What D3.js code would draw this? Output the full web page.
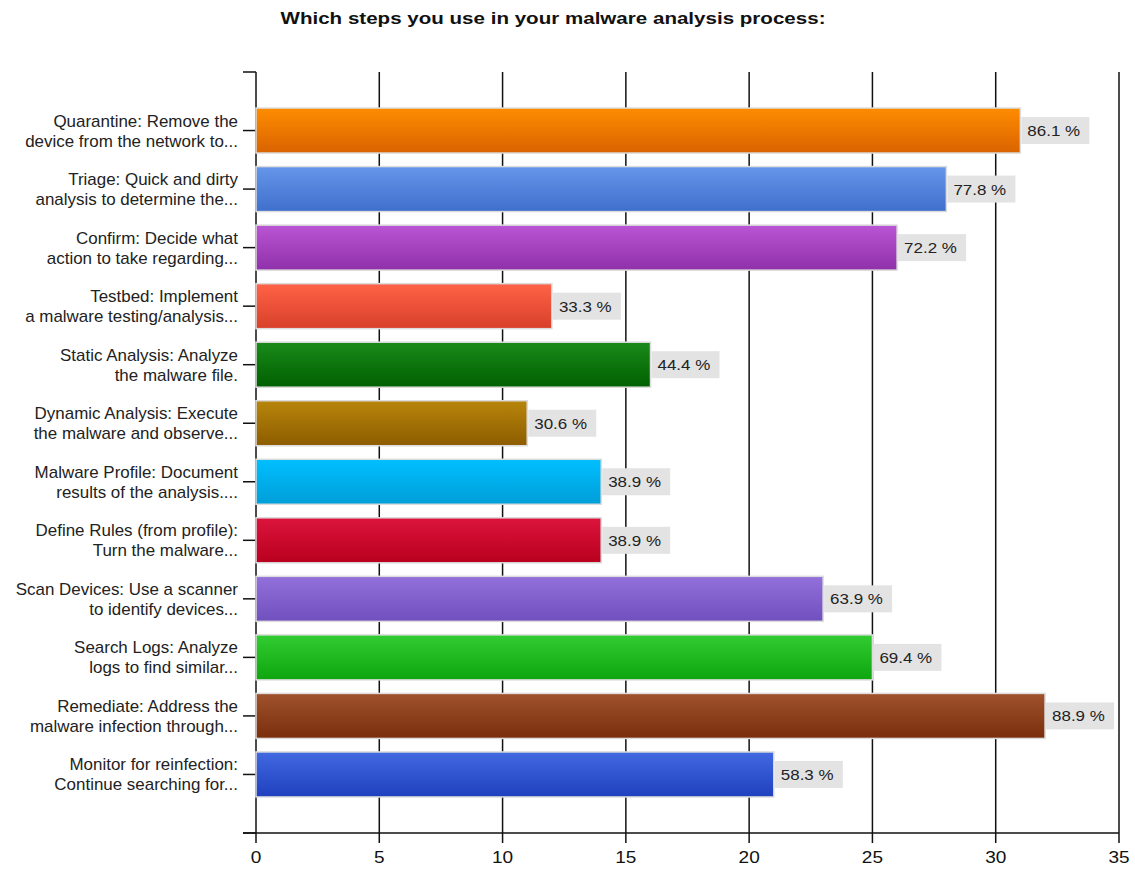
<!DOCTYPE html>
<html>
<head>
<meta charset="utf-8">
<script src="https://cdn.jsdelivr.net/npm/d3@7"></script>
<style>
  body { margin: 0; background: #fff; }
  text { font-family: "Liberation Sans", Arial, sans-serif; }
</style>
</head>
<body>
<div id="chart"></div>
<script>
var categories = [
    ["Quarantine: Remove the", "device from the network to..."],
    ["Triage: Quick and dirty", "analysis to determine the..."],
    ["Confirm: Decide what", "action to take regarding..."],
    ["Testbed: Implement", "a malware testing/analysis..."],
    ["Static Analysis: Analyze", "the malware file."],
    ["Dynamic Analysis: Execute", "the malware and observe..."],
    ["Malware Profile: Document", "results of the analysis...."],
    ["Define Rules (from profile):", "Turn the malware..."],
    ["Scan Devices: Use a scanner", "to identify devices..."],
    ["Search Logs: Analyze", "logs to find similar..."],
    ["Remediate: Address the", "malware infection through..."],
    ["Monitor for reinfection:", "Continue searching for..."]
];
var counts = [31, 28, 26, 12, 16, 11, 14, 14, 23, 25, 32, 21];
var percents = ["86.1 %", "77.8 %", "72.2 %", "33.3 %", "44.4 %", "30.6 %",
                "38.9 %", "38.9 %", "63.9 %", "69.4 %", "88.9 %", "58.3 %"];
var colorsTop = ["#ff8c00", "#6596ea", "#ba55d3", "#ff6347", "#1a8a1a", "#b8860b",
                 "#00bfff", "#dc143c", "#9370db", "#32cd32", "#a0522d", "#4169e1"];
var colorsBottom = ["#d96300", "#3f6fcc", "#9030aa", "#d8402a", "#006000", "#8c5c00",
                    "#009ed8", "#b8001e", "#7050be", "#0ea50e", "#7a2e0c", "#2040bf"];
var xTicks = [0, 5, 10, 15, 20, 25, 30, 35];

function init() {
    var w = 1135;
    var h = 869;
    var left = 256, right = 1119, top = 72, bottom = 833;
    var barH = 45;

    var x = d3.scaleLinear().domain([0, 35]).range([left, right]);
    // categories sit at 1..12 on a 0..13 axis
    var y = d3.scaleLinear().domain([0, categories.length + 1]).range([top, bottom]);

    var svg = d3.select("#chart")
                .append("svg")
                .attr("width", w)
                .attr("height", h);

    var defs = svg.append("defs");
    colorsTop.forEach(function(c, i) {
        var g = defs.append("linearGradient")
                    .attr("id", "grad" + i)
                    .attr("x1", 0).attr("y1", 0).attr("x2", 0).attr("y2", 1);
        g.append("stop").attr("offset", "0%").attr("stop-color", c);
        g.append("stop").attr("offset", "100%").attr("stop-color", colorsBottom[i]);
    });

    // the original's text is rendered wide, so stretch horizontally
    svg.append("g")
        .attr("transform", "translate(553,24) scale(1.21,1)")
        .append("text")
        .attr("text-anchor", "middle")
        .attr("font-weight", "bold")
        .attr("font-size", "17px")
        .attr("fill", "#111")
        .text("Which steps you use in your malware analysis process:");

    // vertical grid lines, running a bit below the axis as ticks
    svg.selectAll("line.grid")
        .data(xTicks)
        .enter()
        .append("line")
        .attr("class", "grid")
        .attr("x1", function(d) { return x(d); })
        .attr("x2", function(d) { return x(d); })
        .attr("y1", top)
        .attr("y2", bottom + 10)
        .attr("stroke", "#111")
        .attr("stroke-width", 1.5);

    // left axis ticks (top, categories, bottom)
    var yTickPos = d3.range(0, categories.length + 2);
    svg.selectAll("line.ytick")
        .data(yTickPos)
        .enter()
        .append("line")
        .attr("class", "ytick")
        .attr("x1", left - 13)
        .attr("x2", left)
        .attr("y1", function(d) { return y(d); })
        .attr("y2", function(d) { return y(d); })
        .attr("stroke", "#111")
        .attr("stroke-width", 1.5);

    svg.append("line")
        .attr("x1", left - 13).attr("x2", right)
        .attr("y1", bottom).attr("y2", bottom)
        .attr("stroke", "#111").attr("stroke-width", 1.5);

    svg.selectAll("g.xlab")
        .data(xTicks)
        .enter()
        .append("g")
        .attr("class", "xlab")
        .attr("transform", function(d) {
            return "translate(" + x(d) + "," + (bottom + 30) + ") scale(1.12,1)";
        })
        .append("text")
        .attr("text-anchor", "middle")
        .attr("font-size", "17px")
        .attr("fill", "#111")
        .text(function(d) { return d; });

    var rows = svg.selectAll("g.row")
                  .data(counts)
                  .enter()
                  .append("g")
                  .attr("class", "row")
                  .attr("transform", function(d, i) {
                      return "translate(0," + y(i + 1) + ")";
                  });

    rows.append("rect")
        .attr("x", x(0))
        .attr("y", -barH / 2)
        .attr("width", function(d) { return x(d) - x(0); })
        .attr("height", barH)
        .attr("fill", function(d, i) { return "url(#grad" + i + ")"; })
        .attr("stroke", "#dcdcdc")
        .attr("stroke-width", 1.5);

    rows.append("rect")
        .attr("x", function(d) { return x(d) + 1; })
        .attr("y", -13.5)
        .attr("width", 68)
        .attr("height", 27)
        .attr("fill", "#e3e3e3");

    rows.append("g")
        .attr("transform", function(d) { return "translate(" + (x(d) + 7) + ",5.5) scale(1.13,1)"; })
        .append("text")
        .attr("font-size", "15px")
        .attr("fill", "#222")
        .text(function(d, i) { return percents[i]; });

    var labels = rows.append("g")
        .attr("transform", "translate(238,0) scale(1.06,1)")
        .append("text")
        .attr("text-anchor", "end")
        .attr("font-size", "16px")
        .attr("fill", "#222");
    labels.selectAll("tspan")
        .data(function(d, i) { return categories[i]; })
        .enter()
        .append("tspan")
        .attr("x", 0)
        .attr("y", function(d, j) { return j === 0 ? -4 : 16; })
        .text(function(d) { return d; });
}
window.onload = init;
</script>
</body>
</html>
